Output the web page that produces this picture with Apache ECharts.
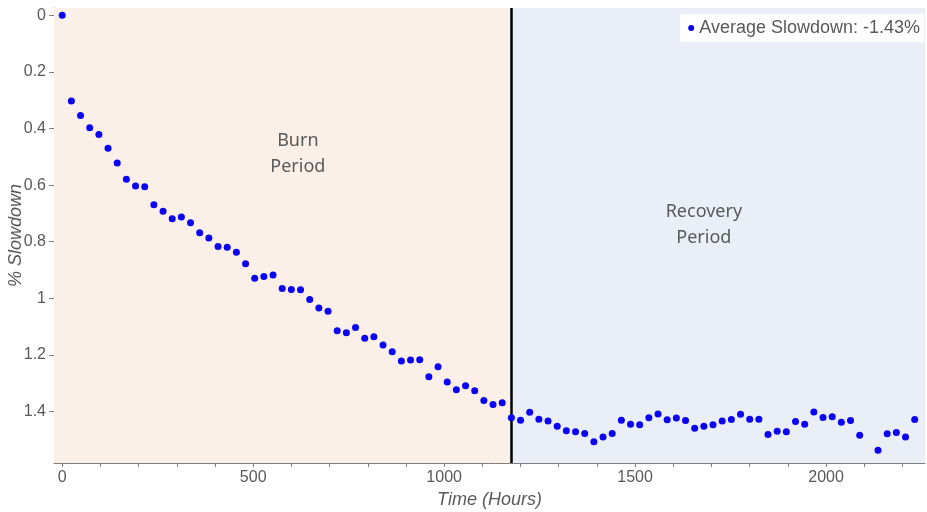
<!DOCTYPE html>
<html>
<head>
<meta charset="utf-8">
<script src="https://cdn.jsdelivr.net/npm/echarts@6/dist/echarts.min.js"></script>
<style>html,body{margin:0;padding:0;background:#fff}#c{width:927px;height:512px}</style>
</head>
<body>
<div id="c"></div>
<script>
const hours = [0,24,48,72,96,120,144,168,192,216,240,264,288,312,336,360,384,408,432,456,480,504,528,552,576,600,624,648,672,696,720,744,768,792,816,840,864,888,912,936,960,984,1008,1032,1056,1080,1104,1128,1152,1176,1200,1224,1248,1272,1296,1320,1344,1368,1392,1416,1440,1464,1488,1512,1536,1560,1584,1608,1632,1656,1680,1704,1728,1752,1776,1800,1824,1848,1872,1896,1920,1944,1968,1992,2016,2040,2064,2088,2136,2160,2184,2208,2232];
const slowdown = [0.000,0.303,0.354,0.397,0.421,0.470,0.522,0.579,0.603,0.606,0.669,0.692,0.719,0.713,0.733,0.768,0.787,0.817,0.820,0.837,0.878,0.929,0.923,0.918,0.965,0.969,0.970,1.004,1.034,1.046,1.115,1.122,1.103,1.141,1.136,1.165,1.189,1.222,1.218,1.217,1.277,1.242,1.296,1.323,1.309,1.327,1.361,1.375,1.369,1.422,1.431,1.403,1.427,1.434,1.452,1.468,1.472,1.478,1.507,1.490,1.478,1.431,1.445,1.447,1.422,1.409,1.429,1.423,1.432,1.459,1.452,1.447,1.434,1.428,1.410,1.427,1.427,1.481,1.470,1.472,1.435,1.445,1.402,1.421,1.419,1.438,1.432,1.484,1.537,1.479,1.474,1.490,1.428];
const seriesName = 'Average Slowdown: -1.43%';
const xRange = [-21.5, 2259];
const yRange = [-0.0258, 1.582];
const xLabelValues = [0,500,1000,1500,2000];
const xTickValues = [0,100,200,300,400,500,600,700,800,900,1000,1100,1200,1300,1400,1500,1600,1700,1800,1900,2000,2100,2200];
const yLabelValues = [0,0.2,0.4,0.6,0.8,1,1.2,1.4];
const yMinorTickValues = [0.04,0.08,0.12,0.16,0.24,0.28,0.32,0.36,0.44,0.48,0.52,0.56,0.64,0.68,0.72,0.76,0.84,0.88,0.92,0.96,1.04,1.08,1.12,1.16,1.24,1.28,1.32,1.36,1.44,1.48,1.52,1.56];
const burnEnd = 1176;
const periodLabels = [
  {text: 'Burn\nPeriod', x: 617, y: 0.49},
  {text: 'Recovery\nPeriod', x: 1680, y: 0.74}
];

const points = hours.map((h, i) => [h, slowdown[i]]);
const gray = '#595959';
const axisColor = '#7f7f7f';
const font = 'Liberation Sans, Arial, sans-serif';

const chart = echarts.init(document.getElementById('c'), null, {renderer: 'canvas'});
chart.setOption({
  animation: false,
  backgroundColor: '#ffffff',
  grid: {left: 54, right: 2, top: 8, bottom: 49, containLabel: false, outerBoundsMode: 'none'},
  legend: {
    right: 3, top: 14,
    backgroundColor: '#ffffff',
    padding: [5, 4, 5, 8],
    itemWidth: 6, itemHeight: 6,
    itemGap: 5,
    textStyle: {fontFamily: font, fontSize: 18, color: gray},
    data: [{name: seriesName, icon: 'circle'}]
  },
  xAxis: {
    type: 'value',
    min: xRange[0], max: xRange[1],
    name: 'Time (Hours)', nameLocation: 'middle', nameGap: 25,
    nameTextStyle: {fontFamily: font, fontSize: 18, fontStyle: 'italic', color: gray},
    axisLine: {show: true, onZero: false, lineStyle: {color: axisColor, width: 1}},
    axisTick: {show: true, length: 4, customValues: xTickValues, lineStyle: {color: axisColor}},
    axisLabel: {customValues: xLabelValues, margin: 7, fontFamily: font, fontSize: 16, color: gray,
      formatter: v => String(v)},
    splitLine: {show: false}
  },
  yAxis: [{
    type: 'value',
    inverse: true,
    min: yRange[0], max: yRange[1],
    name: '% Slowdown', nameLocation: 'middle', nameGap: 29, nameRotate: 90,
    nameMoveOverlap: false,
    nameTextStyle: {fontFamily: font, fontSize: 18, fontStyle: 'italic', color: gray},
    axisLine: {show: true, onZero: false, lineStyle: {color: axisColor, width: 1}},
    axisTick: {show: true, length: 5, customValues: yLabelValues, lineStyle: {color: axisColor}},
    axisLabel: {customValues: yLabelValues, margin: 8, fontFamily: font, fontSize: 16, color: gray,
      formatter: v => String(Math.round(v * 10) / 10)},
    splitLine: {show: false}
  }, {
    type: 'value',
    position: 'left',
    inverse: true,
    min: yRange[0], max: yRange[1],
    axisLine: {show: false},
    axisTick: {show: true, length: 3, customValues: yMinorTickValues, lineStyle: {color: axisColor}},
    axisLabel: {show: false},
    splitLine: {show: false}
  }],
  series: [{
    name: seriesName,
    type: 'scatter',
    symbol: 'circle',
    symbolSize: 7,
    itemStyle: {color: '#0a00f5', opacity: 1},
    data: points,
    z: 5,
    markArea: {
      silent: true,
      data: [
        [{xAxis: xRange[0], itemStyle: {color: '#fbf0e8'}}, {xAxis: burnEnd}],
        [{xAxis: burnEnd, itemStyle: {color: '#eaeef7'}}, {xAxis: xRange[1]}]
      ]
    },
    markLine: {
      silent: true,
      symbol: 'none',
      label: {show: false},
      lineStyle: {color: '#000000', width: 2.5, type: 'solid'},
      data: [{xAxis: burnEnd}]
    },
    markPoint: {
      silent: true,
      symbol: 'circle',
      symbolSize: 0,
      label: {
        show: true, position: 'inside',
        fontFamily: 'Noto Sans, Open Sans, sans-serif', fontSize: 18, lineHeight: 26, color: gray, align: 'center',
        formatter: p => p.data.text
      },
      data: periodLabels.map(d => ({coord: [d.x, d.y], text: d.text}))
    }
  }]
});
</script>
</body>
</html>
